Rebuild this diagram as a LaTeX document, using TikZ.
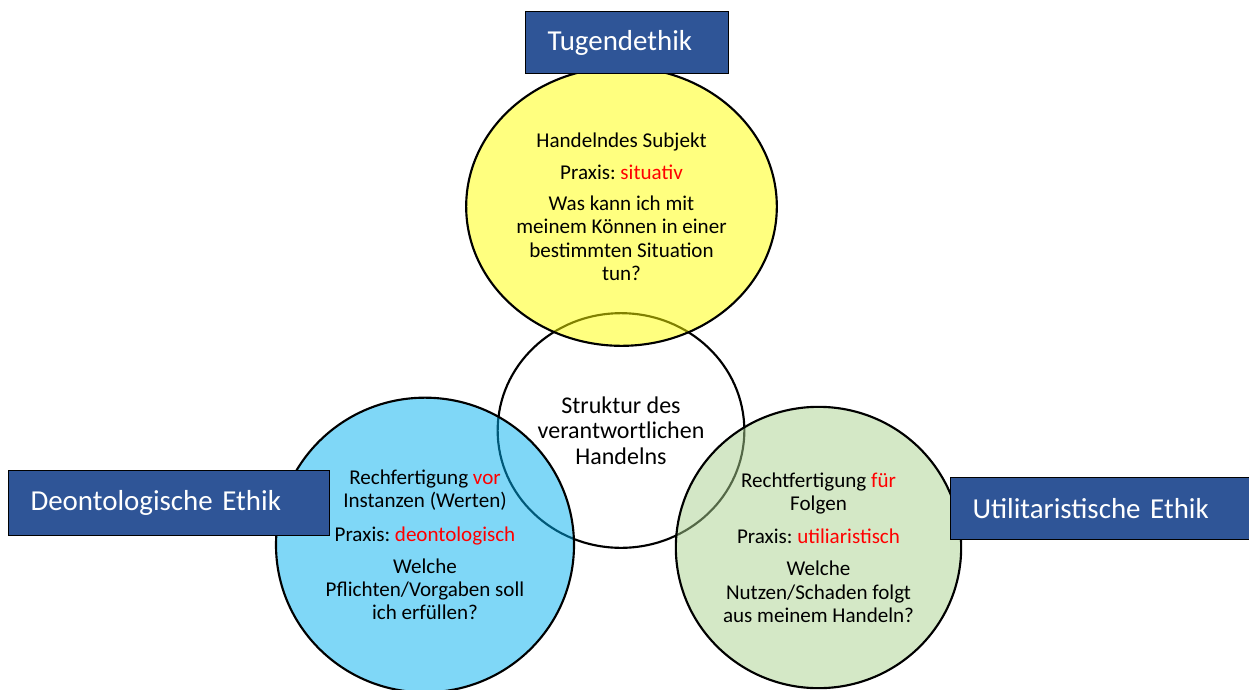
\documentclass[tikz,border=0pt]{standalone}
\usepackage{fontspec}
\setmainfont{Carlito}
\usetikzlibrary{shapes.geometric}
\definecolor{titelblau}{HTML}{2F5597}
\definecolor{gelb}{HTML}{FFFF00}
\definecolor{hellblau}{HTML}{00B0F0}
\definecolor{hellgruen}{HTML}{A9D18E}
\frenchspacing

\begin{document}
\begin{tikzpicture}[x=.75pt,y=-.75pt]
\tikzset{kreis/.style={ellipse,draw=black,line width=1.6pt,inner sep=0pt,align=center,
fill opacity=.5,text opacity=1,font=\fontsize{15.8}{17.3}\selectfont},
titel/.style={rectangle,draw=black,line width=.75pt,fill=titelblau,text=white,align=left,
inner xsep=16.5pt,inner ysep=0pt,anchor=north west,font=\fontsize{21.7}{24}\selectfont}}
\useasboundingbox (0,0) rectangle (1249,689);
% Mitte
\node[kreis,fill=white,fill opacity=1,minimum width=185pt,minimum height=176pt,
font=\fontsize{18}{19.1}\selectfont] (mitte) at (621,430.5){Struktur des\\verantwortlichen\\Handelns};
% drei Ethiken
\node[kreis,fill=gelb,minimum width=233pt,minimum height=209pt] (tugend) at (621.5,206.5)
{Handelndes Subjekt\\[6.5pt]Praxis: \textcolor{red}{situativ}\\[6.5pt]Was kann ich mit\\meinem Können in einer\\bestimmten Situation\\tun?};
\node[kreis,fill=hellblau,minimum width=223.5pt,minimum height=221pt] (deon) at (425,545)
{Rechfertigung \textcolor{red}{vor}\\Instanzen (Werten)\\[7.5pt]Praxis: \textcolor{red}{deontologisch}\\[7pt]Welche\\Pflichten/Vorgaben soll\\ich erfüllen?};
\node[kreis,fill=hellgruen,minimum width=214pt,minimum height=211pt] (util) at (818.5,547.5)
{Rechtfertigung \textcolor{red}{für}\\Folgen\\[7.5pt]Praxis: \textcolor{red}{utiliaristisch}\\[7pt]Welche\\Nutzen/Schaden folgt\\aus meinem Handeln?};
% Titel
\node[titel,text width=119.25pt,minimum height=46.5pt] (tugendtitel) at (525,11){Tugendethik};
\node[titel,text width=207.75pt,minimum height=48.75pt] (deontitel) at (8,470){Deontologische Ethik};
\node[titel,text width=199.5pt,minimum height=46.5pt] (utiltitel) at (950,477){Utilitaristische Ethik};
\end{tikzpicture}
\end{document}
